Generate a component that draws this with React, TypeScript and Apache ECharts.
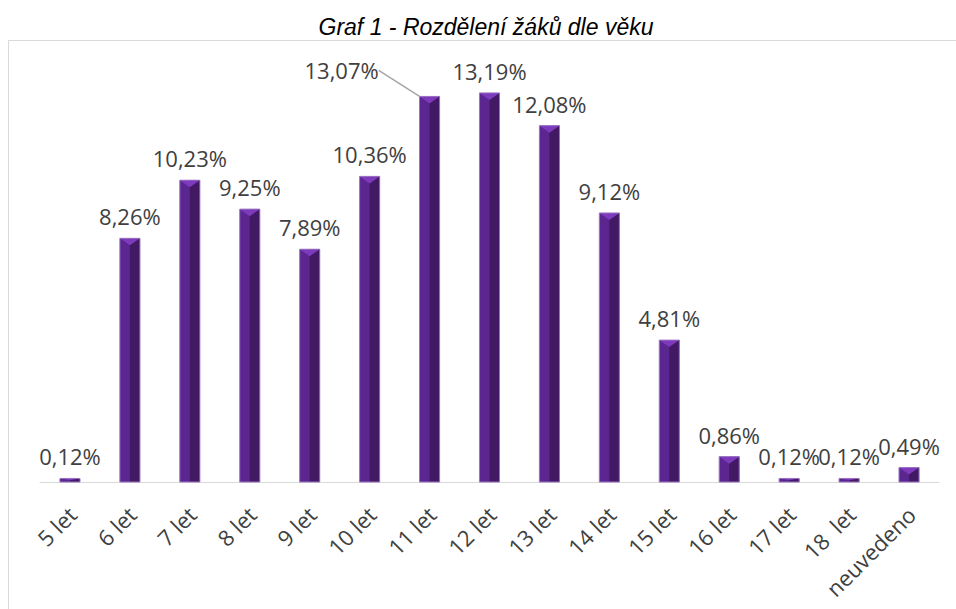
import React, { useEffect, useRef } from "react";
import * as echarts from "echarts";

const categories = ["5 let", "6 let", "7 let", "8 let", "9 let", "10 let", "11 let", "12 let", "13 let", "14 let", "15 let", "16 let", "17 let", "18  let", "neuvedeno"];
const values = [0.12, 8.26, 10.23, 9.25, 7.89, 10.36, 13.07, 13.19, 12.08, 9.12, 4.81, 0.86, 0.12, 0.12, 0.49];
const titleText = "Graf 1 - Rozdělení žáků dle věku";

const fmt = (v: number) => v.toFixed(2).replace(".", ",") + "%";

export default function App() {
  const ref = useRef<HTMLDivElement>(null);
  useEffect(() => {
    if (!ref.current) return;
    const chart = echarts.init(ref.current, undefined, { renderer: "svg" });
    const font = "'Open Sans', 'Noto Sans', sans-serif";
    chart.setOption({
      animation: false,
      backgroundColor: "#ffffff",
      title: {
        text: titleText,
        left: 481,
        textAlign: "center",
        top: 10,
        textStyle: { fontFamily: "'Liberation Sans', Arial, sans-serif", fontStyle: "italic", fontWeight: "normal", fontSize: 23, color: "#000000" },
      },
      graphic: [
        { type: "rect", shape: { x: 8.5, y: 40.5, width: 1000, height: 700 }, style: { fill: "none", stroke: "#d9d9d9", lineWidth: 1 }, silent: true },
      ],
      grid: { left: 40, right: 17, top: 69, bottom: 127 },
      xAxis: {
        type: "category",
        data: categories,
        axisLine: { lineStyle: { color: "#d9d9d9", width: 1 } },
        axisTick: { show: false },
        axisLabel: { rotate: 45, fontSize: 22, color: "#404040", fontFamily: font, margin: 15, interval: 0, verticalAlign: "top", padding: [0, 8, 0, 0] },
      },
      yAxis: { type: "value", min: 0, max: 14, show: false, splitLine: { show: false } },
      series: [
        {
          type: "custom",
          data: values.map((v, i) => [i, v]),
          encode: { x: 0, y: 1 },
          z: 2,
          renderItem: (params: any, api: any) => {
            const idx = api.value(0);
            const v = api.value(1);
            const top = api.coord([idx, v]);
            const base = api.coord([idx, 0]);
            const w = api.size([1, 0])[0] * 0.335;
            const xc = top[0];
            const x0 = xc - w / 2;
            const x1 = xc + w / 2;
            const y0 = top[1];
            const y1 = base[1];
            const h = y1 - y0;
            const b = Math.min(7, h / 2);
            return {
              type: "group",
              children: [
                { type: "rect", shape: { x: x0, y: y0, width: w, height: h }, style: { fill: "#5c2690" } },
                { type: "rect", shape: { x: xc, y: y0, width: w / 2, height: h }, style: { fill: "#421963" } },
                { type: "polygon", shape: { points: [[x0, y0], [x1, y0], [xc, y0 + b]] }, style: { fill: "#7d3abd" } },
                { type: "rect", shape: { x: x0, y: y0, width: w, height: h }, style: { fill: "none", stroke: "#9a74c2", lineWidth: 1 } },
              ],
            };
          },
        },
        {
          type: "bar",
          data: values.map((v, i) =>
            i === 6
              ? { value: v, labelLine: { show: true, lineStyle: { color: "#a6a6a6", width: 1.5 } } }
              : v
          ),
          barWidth: 20,
          z: 3,
          itemStyle: { color: "rgba(0,0,0,0)" },
          label: {
            show: true,
            position: "top",
            distance: 11,
            fontSize: 22,
            fontFamily: font,
            color: "#404040",
            formatter: (p: any) => fmt(p.value),
          },
          labelLayout: (p: any) => (p.dataIndex === 6 ? { dx: -88, dy: -4 } : {}),
        },
      ],
    });
    return () => chart.dispose();
  }, []);
  return <div ref={ref} style={{ position: "absolute", left: 0, top: 0, width: 956, height: 609 }} />;
}
